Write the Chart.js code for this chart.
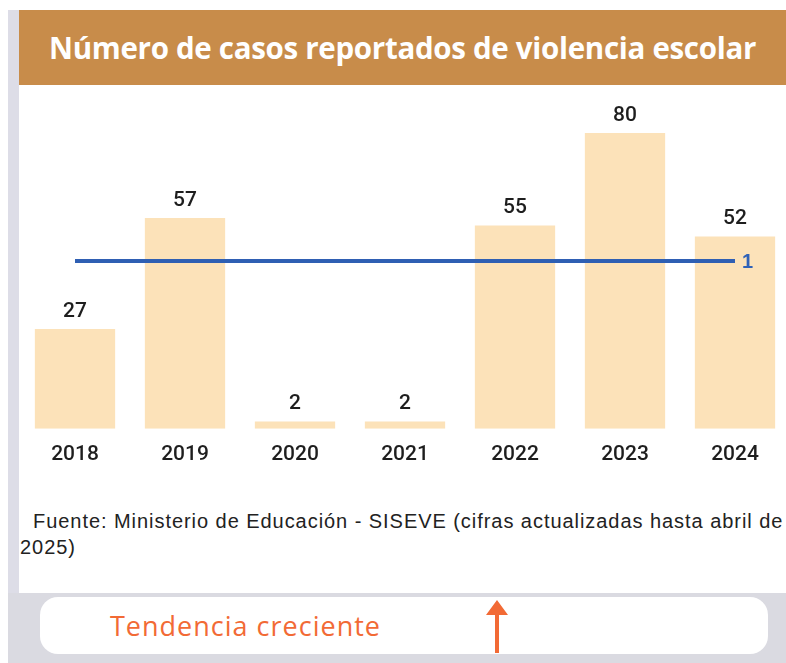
<!DOCTYPE html>
<html>
<head>
<meta charset="utf-8">
<style>
body{margin:0;width:786px;height:663px;overflow:hidden;background:#fff;font-family:"Liberation Sans",Arial,sans-serif;position:relative}
#strip{position:absolute;left:8px;top:10px;width:11px;height:653px;background:#dddde7}
#title{position:absolute;left:19px;top:10px;width:767px;height:75px;background:#c88c4a;color:#fff;font-family:"Open Sans",sans-serif;font-weight:700;font-size:29.5px;line-height:75px;text-align:center;letter-spacing:-0.3px}
#chart{position:absolute;left:20px;top:85px}
#src{position:absolute;left:20px;top:508px;width:766px;font-size:20px;letter-spacing:0.95px;line-height:26px;color:#222;white-space:nowrap}
#band{position:absolute;left:8px;top:593px;width:778px;height:70px;background:#dadae1}
#box{position:absolute;left:40px;top:597px;width:728px;height:57px;background:#fff;border-radius:18px}
#trend{position:absolute;left:110px;top:607px;font-family:"Open Sans",sans-serif;font-size:27px;letter-spacing:1px;color:#f26a35}
#arrow{position:absolute;left:486px;top:600px}
</style>
</head>
<body>
<div id="strip"></div>
<div id="title">Número de casos reportados de violencia escolar</div>
<canvas id="chart" width="770" height="395"></canvas>
<div id="src">&nbsp;&nbsp;Fuente: Ministerio de Educación - SISEVE (cifras actualizadas hasta abril de<br>2025)</div>
<div id="band"></div>
<div id="box"></div>
<div id="trend">Tendencia creciente</div>
<svg id="arrow" width="22" height="54"><polygon points="11,0 22,15 13,15 13,53 9,53 9,15 0,15" fill="#f26a35"/></svg>
<script src="https://cdn.jsdelivr.net/npm/chart.js@4.4.1/dist/chart.umd.min.js"></script>
<script>
years = ['2018','2019','2020','2021','2022','2023','2024']
casos = [27, 57, 2, 2, 55, 80, 52]
referencia = [1, 1, 1, 1, 1, 1, 1]

const labelsPlugin = {
    id: 'labels',
    afterDatasetsDraw(chart){
        let ctx = chart.ctx
        ctx.save()
        let bars = chart.getDatasetMeta(0).data
        ctx.font = '500 21px Roboto, sans-serif'
        ctx.fillStyle = '#1e1e1e'
        ctx.textAlign = 'center'
        ctx.textBaseline = 'bottom'
        bars.forEach((b, i) => {
            ctx.fillText(casos[i], b.x, b.y - 7)
        })
        let pts = chart.getDatasetMeta(1).data
        let last = pts[pts.length - 1]
        ctx.font = 'bold 20px "Liberation Sans", Arial, sans-serif'
        ctx.fillStyle = '#2f62b8'
        ctx.textAlign = 'left'
        ctx.textBaseline = 'middle'
        ctx.fillText(referencia[referencia.length - 1], last.x + 7, last.y + 1)
        ctx.restore()
    }
}

let ctx = document.getElementById('chart').getContext('2d')
let chart = new Chart(ctx, {
    data: {
        labels: years,
        datasets: [{
            type: 'bar',
            data: casos,
            backgroundColor: '#fce2b9',
            categoryPercentage: 1,
            barPercentage: 0.73,
            yAxisID: 'y',
            order: 2
        }, {
            type: 'line',
            data: referencia,
            borderColor: '#2f5fb3',
            borderWidth: 4,
            pointRadius: 0,
            yAxisID: 'y2',
            order: 1
        }]
    },
    options: {
        responsive: false,
        animation: false,
        layout: {padding: 0},
        plugins: {legend: {display: false}, tooltip: {enabled: false}},
        scales: {
            x: {
                grid: {display: false, drawTicks: false},
                border: {display: false},
                ticks: {color: '#1e1e1e', padding: 13, font: {family: 'Roboto, sans-serif', size: 21, weight: '500'}}
            },
            y: {display: false, min: 0, max: 93},
            y2: {display: false, min: 0, max: 2.05}
        }
    },
    plugins: [labelsPlugin]
})
</script>
</body>
</html>
